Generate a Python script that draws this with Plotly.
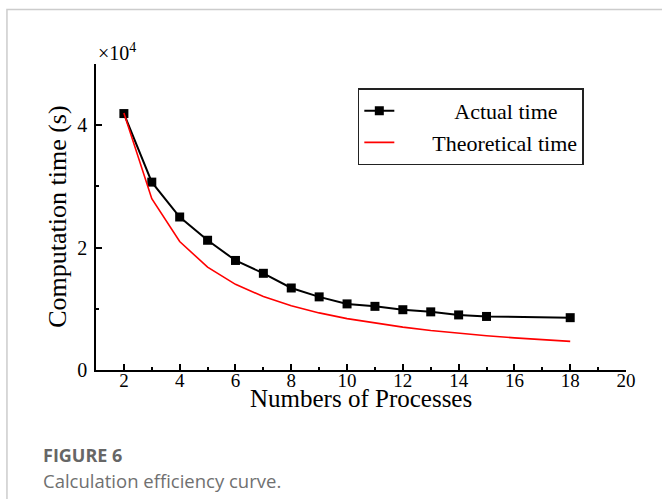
import plotly.graph_objects as go

# Numbers of processes and measured / theoretical computation times (seconds)
actual_x = [2, 3, 4, 5, 6, 7, 8, 9, 10, 11, 12, 13, 14, 15, 18]
actual_t = [41900, 30700, 25000, 21200, 17900, 15800, 13400, 11950, 10800,
            10400, 9850, 9500, 9000, 8750, 8550]
theory_x = [2, 3, 4, 5, 6, 7, 8, 9, 10, 11, 12, 13, 14, 15, 16, 17, 18]
theory_t = [42000, 28000, 21000, 16800, 14000, 12000, 10500, 9330, 8400,
            7640, 7000, 6460, 6000, 5600, 5250, 4940, 4670]

x_ticks = [2, 4, 6, 8, 10, 12, 14, 16, 18, 20]
y_ticks = [0, 20000, 40000, 50000]
y_tick_text = ["0", "2", "4", ""]

serif = "Liberation Serif, Times New Roman, serif"
sans = "Open Sans, sans-serif"
nb = "\u00a0"

fig = go.Figure()
fig.add_trace(go.Scatter(
    x=actual_x, y=actual_t, mode="lines+markers",
    name=nb * 10 + "Actual time",
    line=dict(color="black", width=2),
    marker=dict(symbol="square", size=9, color="black"),
))
fig.add_trace(go.Scatter(
    x=theory_x, y=theory_t, mode="lines",
    name=nb * 6 + "Theoretical time",
    line=dict(color="#ff0000", width=1.6),
))

fig.update_layout(
    width=662, height=499,
    margin=dict(l=96, r=36, t=64, b=129),
    paper_bgcolor="white", plot_bgcolor="white",
    font=dict(family=serif, color="black", size=20),
    showlegend=True,
    legend=dict(
        x=0.494, y=0.92, xanchor="left", yanchor="top",
        bgcolor="white", bordercolor="#222", borderwidth=1.5,
        font=dict(family=serif, size=22, color="black"),
        tracegroupgap=0,
    ),
    xaxis=dict(
        range=[1, 20], tickvals=x_ticks, ticks="inside", ticklen=6,
        tickwidth=1.5, tickcolor="black",
        minor=dict(dtick=1, tick0=1, ticks="inside", ticklen=3,
                   tickcolor="black", showgrid=False),
        showline=True, linecolor="black", linewidth=1.5,
        showgrid=False, zeroline=False,
        tickfont=dict(family=serif, size=19),
        ticklabelstandoff=-8,
    ),
    yaxis=dict(
        range=[0, 50000], tickvals=y_ticks, ticktext=y_tick_text,
        ticks="inside", ticklen=6, tickwidth=1.5, tickcolor="black",
        minor=dict(dtick=10000, tick0=0, ticks="inside", ticklen=3,
                   tickcolor="black", showgrid=False),
        showline=True, linecolor="black", linewidth=1.5,
        showgrid=False, zeroline=False,
        tickfont=dict(family=serif, size=20),
        ticklabelstandoff=3,
    ),
)

# Axis titles
fig.add_annotation(
    xref="paper", yref="paper", x=0.5, y=-0.093, xanchor="center", yanchor="middle",
    text="Numbers of Processes", showarrow=False,
    font=dict(family=serif, size=25, color="black"),
)
fig.add_annotation(
    xref="paper", yref="paper", x=-0.074, y=0.5, xanchor="center", yanchor="middle",
    text="Computation time (s)", textangle=-90, showarrow=False,
    font=dict(family=serif, size=26, color="black"),
)

# Exponent label for the y axis
fig.add_annotation(
    xref="paper", yref="paper", x=0.0, y=1.0, xanchor="left", yanchor="bottom",
    text="×10<sup>4</sup>", showarrow=False, yshift=-2,
    font=dict(family=serif, size=20, color="black"),
)

# Figure caption
fig.add_annotation(
    xref="paper", yref="paper", x=-0.104, y=-0.277, xanchor="left", yanchor="middle",
    text="<b>FIGURE 6</b>", showarrow=False,
    font=dict(family=sans, size=18, color="#666666"),
)
fig.add_annotation(
    xref="paper", yref="paper", x=-0.104, y=-0.36, xanchor="left", yanchor="middle",
    text="Calculation efficiency curve.", showarrow=False,
    font=dict(family=sans, size=18.5, color="#707070"),
)

# Light frame around the figure panel
fig.add_shape(
    type="path", xref="paper", yref="paper",
    path="M -0.168,-0.45 L -0.168,1.178 L 1.1,1.178",
    line=dict(color="#cccccc", width=1.5),
)

fig.write_html("out.html")
